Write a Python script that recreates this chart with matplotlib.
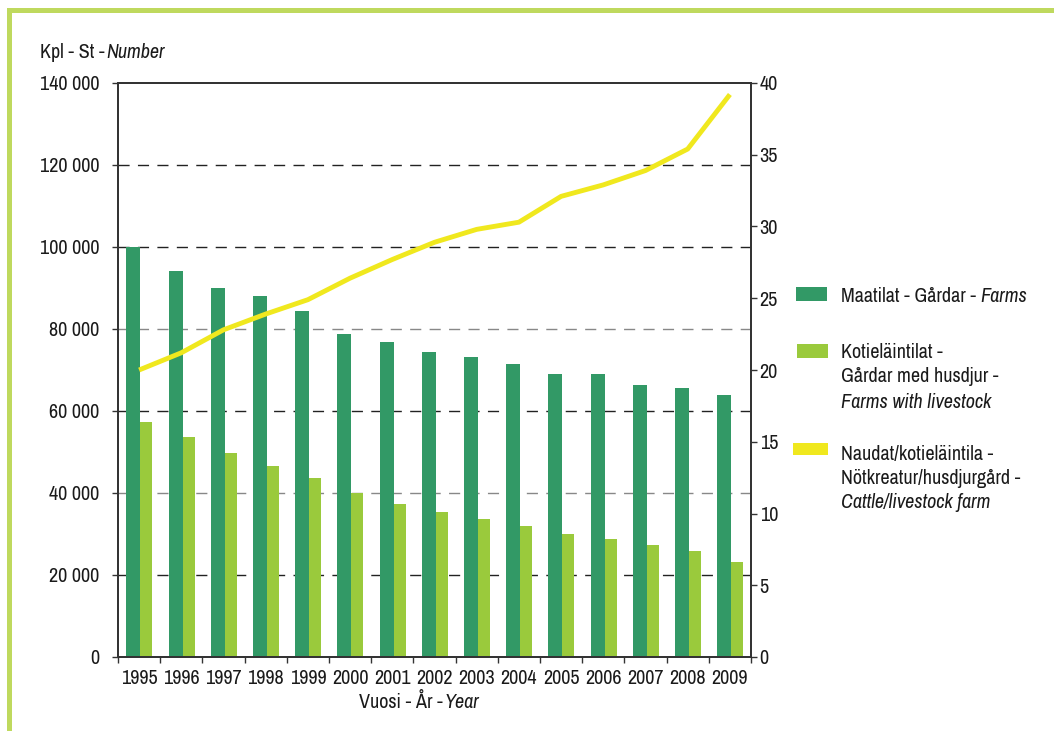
import matplotlib
matplotlib.use('Agg')
import matplotlib.pyplot as plt
from matplotlib.patches import Rectangle
from matplotlib import font_manager
import numpy as np

names = {f.name for f in font_manager.fontManager.ttflist}
FAM = 'Liberation Sans'
for cand in ['Liberation Sans Narrow', 'Arial Narrow', 'Archivo Narrow',
             'Roboto Condensed', 'PT Sans Narrow', 'IBM Plex Sans Condensed']:
    if cand in names:
        FAM = cand
        break
plt.rcParams['font.family'] = [FAM, 'DejaVu Sans']

# ---- data ----
years = ['1995', '1996', '1997', '1998', '1999', '2000', '2001', '2002',
         '2003', '2004', '2005', '2006', '2007', '2008', '2009']
farms = [100000, 94100, 90000, 88000, 84400, 78800, 76800, 74400,
         73200, 71500, 69000, 69000, 66300, 65600, 63900]
livestock_farms = [57300, 53700, 49800, 46600, 43700, 40000, 37300, 35400,
                   33700, 32000, 30000, 28800, 27300, 25800, 23200]
cattle_per_farm = [20.0, 21.2, 22.8, 23.9, 24.9, 26.4, 27.7, 28.9,
                   29.8, 30.3, 32.1, 32.9, 33.9, 35.4, 39.2]
left_ticks = [0, 20000, 40000, 60000, 80000, 100000, 120000, 140000]
right_ticks = [0, 5, 10, 15, 20, 25, 30, 35, 40]

C_FARM = '#329966'
C_LIVE = '#9aca3c'
C_LINE = '#f0e81e'
C_BORDER = '#bfd95e'
C_AX = '#333333'
C_TXT = '#1a1a1a'
FS = 14.5
plt.rcParams['text.color'] = C_TXT
plt.rcParams['xtick.color'] = C_TXT
plt.rcParams['ytick.color'] = C_TXT

W, H = 1054, 731
fig = plt.figure(figsize=(W / 100, H / 100), dpi=100)

def fx(px):
    return px / W

def fy(py):
    return 1 - py / H

# light green frame
fig.add_artist(Rectangle((fx(7), fy(13)), 1 - fx(7), 5 / H, transform=fig.transFigure,
                         facecolor=C_BORDER, edgecolor='none'))
fig.add_artist(Rectangle((fx(7), 0), 5 / W, fy(8), transform=fig.transFigure,
                         facecolor=C_BORDER, edgecolor='none'))

L, R, T, B = 118, 751, 83, 657
ax = fig.add_axes([fx(L), fy(B), (R - L) / W, (B - T) / H])
x = np.arange(len(years))

# gridlines
for v in left_ticks[1:-1]:
    col = '#888888' if v in (40000, 80000) else '#222222'
    ax.axhline(v, color=col, lw=1.0, linestyle=(0, (8, 6)), zorder=1)

ax.bar(x - 0.30, farms, width=0.333, align='edge', color=C_FARM, zorder=2)
ax.bar(x + 0.033, livestock_farms, width=0.28, align='edge', color=C_LIVE, zorder=2)

ax.set_xlim(-0.5, len(years) - 0.5)
ax.set_ylim(0, 140000)
ax.set_yticks(left_ticks)
ax.set_yticklabels([f'{v:,}'.replace(',', ' ') for v in left_ticks], fontsize=FS)
ax.set_xticks(x)
ax.set_xticklabels(years, fontsize=FS)
ax.set_xticks(np.arange(-0.5, len(years), 1.0), minor=True)
ax.tick_params(axis='x', which='major', length=0, pad=9)
ax.tick_params(axis='x', which='minor', length=4.3, width=1, color=C_AX, direction='out')
ax.tick_params(axis='y', length=4.3, width=1, color=C_AX, direction='out', pad=9)
for s in ax.spines.values():
    s.set_color(C_AX)
    s.set_linewidth(1.3)

ax2 = ax.twinx()
ax2.plot(x, cattle_per_farm, color=C_LINE, lw=3.5, solid_capstyle='butt', zorder=3)
ax2.set_ylim(0, 40)
ax2.set_yticks(right_ticks)
ax2.set_yticklabels([str(v) for v in right_ticks], fontsize=FS)
ax2.tick_params(axis='y', length=4.3, width=1, color=C_AX, direction='out', pad=2)
for s in ax2.spines.values():
    s.set_color(C_AX)
    s.set_linewidth(1.3)

def mixed(px, py, normal, italic, ha_anchor='left', gap=3):
    t = fig.text(fx(px), fy(py), normal, fontsize=FS, va='center', ha=ha_anchor)
    if italic:
        ax.annotate(italic, xy=(1, 0.5), xycoords=t, xytext=(gap, 0),
                    textcoords='offset points', va='center', ha='left',
                    fontsize=FS, style='italic', annotation_clip=False)
    return t

# axis titles
mixed(40, 53, 'Kpl - St -', 'Number', gap=1)
mixed(443, 703, 'Vuosi - År -', 'Year', ha_anchor='right', gap=1)

# legend
fig.add_artist(Rectangle((fx(796), fy(301)), 31 / W, 14 / H, transform=fig.transFigure,
                         facecolor=C_FARM, edgecolor='none'))
mixed(841, 296, 'Maatilat - Gårdar -', 'Farms')

fig.add_artist(Rectangle((fx(797), fy(358)), 31 / W, 14 / H, transform=fig.transFigure,
                         facecolor=C_LIVE, edgecolor='none'))
fig.text(fx(841), fy(352), 'Kotieläintilat -', fontsize=FS, va='center')
fig.text(fx(841), fy(377), 'Gårdar med husdjur -', fontsize=FS, va='center')
fig.text(fx(841), fy(402), 'Farms with livestock', fontsize=FS, va='center', style='italic')

fig.add_artist(Rectangle((fx(793), fy(455)), 35 / W, 12 / H, transform=fig.transFigure,
                         facecolor=C_LINE, edgecolor='none'))
fig.text(fx(841), fy(455), 'Naudat/kotieläintila -', fontsize=FS, va='center')
fig.text(fx(841), fy(479), 'Nötkreatur/husdjurgård -', fontsize=FS, va='center')
fig.text(fx(841), fy(503), 'Cattle/livestock farm', fontsize=FS, va='center', style='italic')

fig.savefig('out.png', dpi=100)
